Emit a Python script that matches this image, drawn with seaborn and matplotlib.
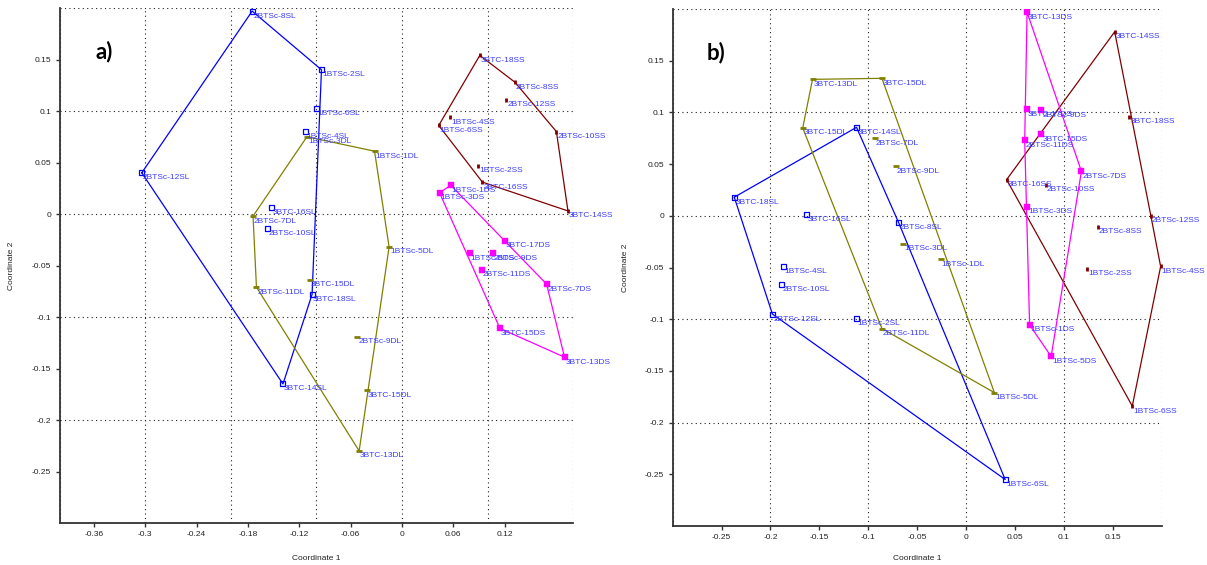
import numpy as np
import pandas as pd
import matplotlib
matplotlib.use("Agg")
import matplotlib.pyplot as plt
from matplotlib.ticker import MultipleLocator, FixedLocator, FixedFormatter
import seaborn as sns

# ---------------- data: panel a ----------------
a_sl_labels = ["2BTSc-8SL", "2BTSc-12SL", "1BTSc-2SL", "1BTSc-6SL", "1BTSc-4SL",
               "3BTC-16SL", "2BTSc-10SL", "3BTC-18SL", "3BTC-14SL"]
a_sl_x = [-0.175, -0.304, -0.094, -0.100, -0.1125, -0.152, -0.157, -0.105, -0.139]
a_sl_y = [0.197, 0.040, 0.140, 0.102, 0.080, 0.0065, -0.0136, -0.078, -0.165]

a_dl_labels = ["1BTSc-3DL", "1BTSc-1DL", "2BTSc-7DL", "1BTSc-5DL", "3BTC-15DL",
               "2BTSc-11DL", "2BTSc-9DL", "3BTC-15DL", "3BTC-13DL"]
a_dl_x = [-0.111, -0.032, -0.174, -0.015, -0.1075, -0.170, -0.052, -0.041, -0.050]
a_dl_y = [0.075, 0.061, -0.002, -0.032, -0.0636, -0.071, -0.119, -0.171, -0.230]

a_ss_labels = ["3BTC-18SS", "2BTSc-8SS", "2BTSc-12SS", "1BTSc-4SS", "1BTSc-6SS",
               "2BTSc-10SS", "1BTSc-2SS", "3BTC-16SS", "3BTC-14SS"]
a_ss_x = [0.091, 0.132, 0.122, 0.056, 0.043, 0.1805, 0.089, 0.094, 0.194]
a_ss_y = [0.154, 0.128, 0.111, 0.094, 0.086, 0.080, 0.047, 0.031, 0.003]

a_ds_labels = ["1BTSc-1DS", "1BTSc-3DS", "3BTC-17DS", "1BTSc-5DS", "2BTSc-9DS",
               "2BTSc-11DS", "2BTSc-7DS", "3BTC-15DS", "3BTC-13DS"]
a_ds_x = [0.057, 0.044, 0.120, 0.079, 0.106, 0.093, 0.169, 0.1145, 0.190]
a_ds_y = [0.028, 0.0206, -0.026, -0.038, -0.038, -0.054, -0.068, -0.111, -0.139]

# ---------------- data: panel b ----------------
b_sl_labels = ["3BTC-18SL", "3BTC-14SL", "3BTC-16SL", "1BTSc-4SL", "2BTSc-10SL",
               "2BTSc-12SL", "1BTSc-2SL", "2BTSc-8SL", "1BTSc-6SL"]
b_sl_x = [-0.237, -0.112, -0.163, -0.187, -0.189, -0.198, -0.112, -0.069, 0.040]
b_sl_y = [0.018, 0.0856, 0.001, -0.049, -0.066, -0.095, -0.099, -0.0064, -0.255]

b_dl_labels = ["3BTC-13DL", "3BTC-15DL", "3BTC-15DL", "2BTSc-7DL", "2BTSc-9DL",
               "1BTSc-3DL", "1BTSc-1DL", "2BTSc-11DL", "1BTSc-5DL"]
b_dl_x = [-0.157, -0.086, -0.167, -0.0935, -0.072, -0.064, -0.026, -0.086, 0.029]
b_dl_y = [0.132, 0.133, 0.085, 0.075, 0.048, -0.027, -0.042, -0.109, -0.171]

b_ss_labels = ["3BTC-14SS", "3BTC-18SS", "3BTC-16SS", "2BTSc-10SS", "2BTSc-12SS",
               "2BTSc-8SS", "1BTSc-2SS", "1BTSc-4SS", "1BTSc-6SS"]
b_ss_x = [0.152, 0.167, 0.0415, 0.0815, 0.189, 0.1346, 0.124, 0.199, 0.170]
b_ss_y = [0.178, 0.096, 0.035, 0.030, 0.000, -0.0106, -0.051, -0.049, -0.184]

b_ds_labels = ["3BTC-13DS", "3BTC-17DS", "2BTSc-9DS", "3BTC-15DS", "2BTSc-11DS",
               "2BTSc-7DS", "1BTSc-3DS", "1BTSc-1DS", "1BTSc-5DS"]
b_ds_x = [0.0624, 0.0624, 0.077, 0.077, 0.060, 0.118, 0.0624, 0.065, 0.087]
b_ds_y = [0.197, 0.103, 0.102, 0.079, 0.073, 0.043, 0.009, -0.1055, -0.136]

# ---------------- axis ticks ----------------
a_xticks = [-0.36, -0.3, -0.24, -0.18, -0.12, -0.06, 0, 0.06, 0.12]
a_xticklabels = ["-0.36", "-0.3", "-0.24", "-0.18", "-0.12", "-0.06", "0", "0.06", "0.12"]
b_xticks = [-0.25, -0.2, -0.15, -0.1, -0.05, 0, 0.05, 0.1, 0.15]
b_xticklabels = ["-0.25", "-0.2", "-0.15", "-0.1", "-0.05", "0", "0.05", "0.1", "0.15"]
yticks = [0.15, 0.1, 0.05, 0, -0.05, -0.1, -0.15, -0.2, -0.25]
yticklabels = ["0.15", "0.1", "0.05", "0", "-0.05", "-0.1", "-0.15", "-0.2", "-0.25"]

# ---------------- style ----------------
sns.set_theme(style="white")
plt.rcParams["font.family"] = ["Liberation Sans", "DejaVu Sans"]

COL = {"SL": "#0000FF", "DL": "#808000", "SS": "#800000", "DS": "#FF00FF"}
LABEL_COL = "#3C3CFF"


def hull(xs, ys):
    pts = sorted(set(zip(xs, ys)))
    if len(pts) < 3:
        return pts

    def cross(o, a, b):
        return (a[0] - o[0]) * (b[1] - o[1]) - (a[1] - o[1]) * (b[0] - o[0])

    lower, upper = [], []
    for p in pts:
        while len(lower) >= 2 and cross(lower[-2], lower[-1], p) <= 0:
            lower.pop()
        lower.append(p)
    for p in reversed(pts):
        while len(upper) >= 2 and cross(upper[-2], upper[-1], p) <= 0:
            upper.pop()
        upper.append(p)
    h = lower[:-1] + upper[:-1]
    return h + [h[0]]


def draw_group(ax, labels, xs, ys, kind):
    c = COL[kind]
    h = hull(xs, ys)
    hd = pd.DataFrame({"x": [p[0] for p in h], "y": [p[1] for p in h]})
    sns.lineplot(data=hd, x="x", y="y", sort=False, estimator=None, color=c,
                 lw=0.9, ax=ax)
    df = pd.DataFrame({"x": xs, "y": ys})
    if kind == "SL":
        sns.scatterplot(data=df, x="x", y="y", marker="s", s=13, facecolor="none",
                        edgecolor=c, linewidth=0.9, ax=ax, zorder=3)
    elif kind == "DS":
        sns.scatterplot(data=df, x="x", y="y", marker="s", s=14, color=c,
                        edgecolor=c, linewidth=0.3, ax=ax, zorder=3)
    elif kind == "DL":
        sns.scatterplot(data=df, x="x", y="y", marker="_", s=16, color=c,
                        linewidth=2.0, ax=ax, zorder=3)
    else:
        sns.scatterplot(data=df, x="x", y="y", marker="|", s=12, color=c,
                        linewidth=2.0, ax=ax, zorder=3)
    for lab, x, y in zip(labels, xs, ys):
        ax.annotate(lab, (x, y), xytext=(1, -5), textcoords="offset pixels",
                    fontsize=6, color=LABEL_COL, ha="left", va="center",
                    zorder=4)


def style_axes(ax, xlim, xticks, xticklabels, ylab_x, xlab_y):
    ax.set_xlim(*xlim)
    ax.set_ylim(-0.3, 0.2)
    ax.xaxis.set_major_locator(FixedLocator(xticks))
    ax.xaxis.set_major_formatter(FixedFormatter(xticklabels))
    ax.yaxis.set_major_locator(FixedLocator(yticks))
    ax.yaxis.set_major_formatter(FixedFormatter(yticklabels))
    ax.xaxis.set_minor_locator(MultipleLocator(0.1))
    ax.yaxis.set_minor_locator(MultipleLocator(0.1))
    ax.xaxis.remove_overlapping_locs = False
    ax.yaxis.remove_overlapping_locs = False
    ax.grid(False, which="major")
    ax.grid(True, which="minor", color="#222222", linestyle=(0, (1, 3)), lw=0.8)
    ax.tick_params(which="minor", length=0)
    ax.tick_params(which="major", direction="out", length=3, width=1,
                   color="#333333", labelsize=6, labelcolor="#222222", pad=3,
                   bottom=True, left=True)
    for s in ["top", "right"]:
        ax.spines[s].set_visible(False)
    for s in ["left", "bottom"]:
        ax.spines[s].set_color("#333333")
        ax.spines[s].set_linewidth(1.3)
    ax.set_xlabel("Coordinate 1", fontsize=6, color="#222222")
    ax.set_ylabel("Coordinate 2", fontsize=6, color="#222222")
    ax.yaxis.set_label_coords(ylab_x, 0.5)
    ax.xaxis.set_label_coords(0.5, xlab_y)
    ax.set_axisbelow(True)


fig = plt.figure(figsize=(12.07, 5.65), dpi=100)
axa = fig.add_axes([0.0494, 0.0743, 0.4254, 0.9115])
axb = fig.add_axes([0.5573, 0.0690, 0.4051, 0.9150])

draw_group(axa, a_sl_labels, a_sl_x, a_sl_y, "SL")
draw_group(axa, a_dl_labels, a_dl_x, a_dl_y, "DL")
draw_group(axa, a_ss_labels, a_ss_x, a_ss_y, "SS")
draw_group(axa, a_ds_labels, a_ds_x, a_ds_y, "DS")
draw_group(axb, b_sl_labels, b_sl_x, b_sl_y, "SL")
draw_group(axb, b_dl_labels, b_dl_x, b_dl_y, "DL")
draw_group(axb, b_ss_labels, b_ss_x, b_ss_y, "SS")
draw_group(axb, b_ds_labels, b_ds_x, b_ds_y, "DS")

style_axes(axa, (-0.4, 0.2), a_xticks, a_xticklabels, -0.087, -0.062)
style_axes(axb, (-0.3, 0.2), b_xticks, b_xticklabels, -0.089, -0.056)

for ax, t in [(axa, "a)"), (axb, "b)")]:
    ax.text(0.07, 0.915, t, transform=ax.transAxes, fontsize=16,
            fontweight="bold", family=["Lato", "DejaVu Sans"], color="black",
            ha="left", va="center")

fig.savefig("out.png", dpi=100)
